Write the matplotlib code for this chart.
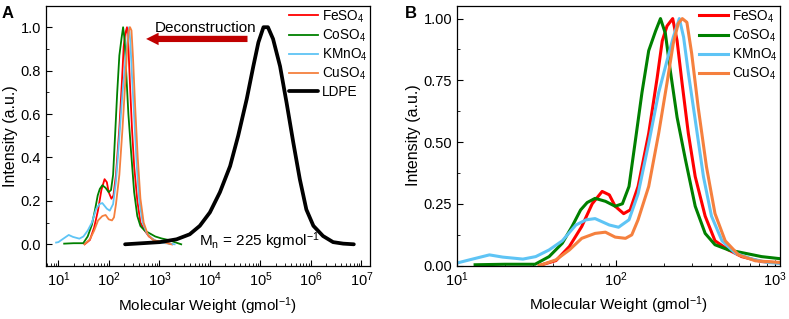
import matplotlib
matplotlib.use("Agg")
import matplotlib.pyplot as plt
from matplotlib.ticker import FixedLocator, LogLocator, MultipleLocator, NullFormatter

plt.rcParams['font.family'] = ['Liberation Sans', 'DejaVu Sans']
plt.rcParams['mathtext.default'] = 'regular'

# GPC traces (molecular weight in g/mol, normalised intensity)
fe_mw = [33, 42, 51, 61, 71, 82, 91, 99, 112, 123, 138, 161, 182, 196, 210, 228,
         243, 261, 286, 316, 365, 421, 512, 620, 827, 1100, 1500, 1800]
fe_int = [0.0, 0.02, 0.077, 0.158, 0.25, 0.30, 0.286, 0.24, 0.21, 0.225, 0.32, 0.535,
          0.76, 0.91, 0.97, 1.0, 0.91, 0.74, 0.535, 0.36, 0.20, 0.10, 0.063, 0.036,
          0.016, 0.01, 0.005, 0.0]

co_mw = [13, 20, 31, 38, 46, 53, 60, 66, 74, 86, 99, 110, 121, 133, 146, 161, 178,
         191, 205, 219, 243, 274, 316, 365, 421, 512, 646, 827, 1100, 1500, 2000, 2700]
co_int = [0.003, 0.005, 0.005, 0.036, 0.09, 0.158, 0.225, 0.255, 0.272, 0.26, 0.24,
          0.25, 0.32, 0.51, 0.70, 0.87, 0.95, 1.0, 0.94, 0.80, 0.60, 0.43, 0.24, 0.13,
          0.084, 0.063, 0.05, 0.036, 0.027, 0.02, 0.01, 0.0]

km_mw = [9, 10, 12, 16, 19.4, 26, 31.3, 38, 46, 56, 65, 74, 91, 104, 121, 138, 161,
         186, 210, 230, 251, 267, 286, 316, 356, 400, 466, 565, 720, 910, 1100, 1300, 2000]
km_int = [0.008, 0.01, 0.023, 0.043, 0.034, 0.026, 0.036, 0.063, 0.10, 0.164, 0.185,
          0.19, 0.164, 0.155, 0.185, 0.29, 0.495, 0.70, 0.83, 0.925, 1.0, 0.925, 0.78,
          0.59, 0.36, 0.20, 0.10, 0.05, 0.026, 0.012, 0.008, 0.005, 0.0]

cu_mw = [33, 42, 51, 61, 74, 86, 99, 115, 126, 138, 161, 186, 210, 230, 247, 262,
         280, 300, 330, 372, 421, 488, 592, 755, 1100, 1300, 1700]
cu_int = [0.0, 0.023, 0.063, 0.11, 0.13, 0.135, 0.115, 0.11, 0.124, 0.185, 0.32,
          0.535, 0.74, 0.90, 0.98, 1.0, 0.985, 0.86, 0.64, 0.40, 0.21, 0.10, 0.043,
          0.019, 0.012, 0.008, 0.0]

ldpe_mw = [209, 1020, 2190, 3980, 6310, 10000, 15800, 25100, 36300, 53700, 72400,
           91200, 115000, 141000, 178000, 245000, 331000, 447000, 603000, 813000,
           1120000, 1740000, 2750000, 4370000, 7080000]
ldpe_int = [0.0, 0.01, 0.023, 0.046, 0.085, 0.147, 0.24, 0.36, 0.50, 0.67, 0.82,
            0.93, 1.0, 1.0, 0.946, 0.82, 0.65, 0.47, 0.30, 0.16, 0.085, 0.038,
            0.01, 0.003, 0.0]

labels = ['FeSO$_4$', 'CoSO$_4$', 'KMnO$_4$', 'CuSO$_4$']
colors = ['#ff0000', '#008000', '#5ec4f5', '#f5803e']
salts = [(fe_mw, fe_int), (co_mw, co_int), (km_mw, km_int), (cu_mw, cu_int)]

fig = plt.figure(figsize=(7.89, 3.19), dpi=100)
W, H = 789, 319
axA = fig.add_axes([45.7 / W, 1 - 266 / H, (370 - 45.7) / W, (266 - 5.5) / H])
axB = fig.add_axes([457 / W, 1 - 265.5 / H, (780 - 457) / W, (265.5 - 5.5) / H])

# panel A
for (mw, inten), lab, c in zip(salts, labels, colors):
    axA.plot(mw, inten, color=c, lw=1.3, label=lab)
axA.plot(ldpe_mw, ldpe_int, color='black', lw=2.7, label='LDPE', solid_capstyle='round')
axA.set_xscale('log')
axA.set_xlim(5.6, 1.48e7)
axA.set_ylim(-0.1, 1.1)
axA.yaxis.set_major_locator(MultipleLocator(0.2))
axA.yaxis.set_minor_locator(MultipleLocator(0.1))
axA.xaxis.set_major_locator(FixedLocator([1e1, 1e2, 1e3, 1e4, 1e5, 1e6, 1e7]))
axA.xaxis.set_minor_locator(LogLocator(base=10, subs=range(2, 10), numticks=20))
axA.xaxis.set_minor_formatter(NullFormatter())
axA.set_xlabel('Molecular Weight (gmol$^{-1}$)', fontsize=11)
axA.set_ylabel('Intensity (a.u.)', fontsize=11.5, labelpad=2)
axA.legend(loc='upper right', frameon=False, fontsize=9.8, handlelength=2.1,
           handletextpad=0.3, labelspacing=0.2, borderpad=0.1, borderaxespad=0.1)
axA.annotate('', xy=(480, 0.946), xytext=(6.3e4, 0.946),
             arrowprops=dict(arrowstyle='simple,head_length=0.9,head_width=0.9,tail_width=0.45',
                             color='#c00000', lw=0))
axA.text(8.3e3, 0.995, 'Deconstruction', fontsize=11, ha='center', va='center')
axA.text(6.0e3, 0.015, 'M$_n$ = 225 kgmol$^{-1}$', fontsize=11, ha='left', va='center')
fig.text(2 / W, 1 - 13 / H, 'A', fontsize=12, fontweight='bold', va='center')

# panel B
for (mw, inten), lab, c in zip(salts, labels, colors):
    axB.plot(mw, inten, color=c, lw=2.2, label=lab)
axB.set_xscale('log')
axB.set_xlim(10, 1080)
axB.set_ylim(0, 1.053)
axB.yaxis.set_major_locator(MultipleLocator(0.25))
axB.yaxis.set_minor_locator(MultipleLocator(0.125))
axB.xaxis.set_major_locator(FixedLocator([1e1, 1e2, 1e3]))
axB.xaxis.set_minor_locator(LogLocator(base=10, subs=range(2, 10), numticks=20))
axB.xaxis.set_minor_formatter(NullFormatter())
axB.yaxis.set_major_formatter(plt.FormatStrFormatter('%.2f'))
axB.set_xlabel('Molecular Weight (gmol$^{-1}$)', fontsize=11)
axB.set_ylabel('Intensity (a.u.)', fontsize=11.5, labelpad=2)
axB.legend(loc='upper right', frameon=False, fontsize=9.8, handlelength=2.1,
           handletextpad=0.3, labelspacing=0.2, borderpad=0.1, borderaxespad=0.1)
fig.text(405 / W, 1 - 13 / H, 'B', fontsize=12, fontweight='bold', va='center')

for ax in (axA, axB):
    ax.tick_params(which='both', direction='in', labelsize=10.5, top=False, right=False)
    ax.tick_params(which='major', length=4, width=0.8)
    ax.tick_params(which='minor', length=2, width=0.6)
    for s in ax.spines.values():
        s.set_linewidth(0.9)

fig.savefig('out.png', dpi=100)
